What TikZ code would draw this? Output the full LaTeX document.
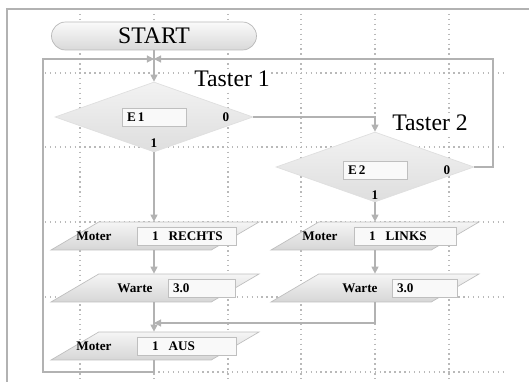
\documentclass[tikz,border=0pt]{standalone}
\usepackage{fontspec}
\setmainfont{Liberation Serif}
\usepackage{tikz}
\usetikzlibrary{shapes}
\usetikzlibrary{arrows.meta,backgrounds}
\tikzset{start node/.style={rounded rectangle, draw=gray!55, top color=gray!4,
    bottom color=gray!30, minimum width=4.1cm, minimum height=0.56cm,
    inner sep=0pt, font=\fontsize{13.5}{14}\selectfont}}
\tikzset{branch node/.style={diamond, draw=gray!25, top color=gray!10,
    bottom color=gray!26, minimum width=3.96cm, minimum height=1.4cm, inner sep=2pt}}
\tikzset{action node/.style={trapezium, trapezium left angle=67, trapezium right angle=113,
    trapezium stretches=true, draw=gray!50, top color=gray!8, bottom color=gray!32,
    minimum width=4.16cm, minimum height=0.56cm, inner sep=2pt}}
\tikzset{field node/.style={draw=gray!50, fill=gray!5, text width=#1, align=left,
    minimum height=0.36cm, inner xsep=0.1cm, inner ysep=0pt,
    font=\bfseries\fontsize{7.5}{8}\selectfont}}
\tikzset{small text/.style={inner sep=1pt, font=\bfseries\fontsize{7.5}{8}\selectfont}}
\tikzset{title text/.style={fill=white, inner sep=1pt, font=\fontsize{13.5}{14}\selectfont}}
\tikzset{flow edge/.style={draw=gray!60, semithick, -{Triangle[length=4pt,width=4pt]}}}
\tikzset{grid line/.style={gray!55, dotted, thick}}
\tikzset{frame line/.style={draw=gray!60, line width=1.2pt}}

\begin{document}
\begin{tikzpicture}
      [x=0.02cm, y=-0.02cm]
      \useasboundingbox (0,0) rectangle (529,382);

      \node [start node]    (start)    at (154, 36) {START};

      \node [branch node]   (taster1)  at (154,117) {};
      \node [branch node]   (taster2)  at (375,167) {};
      \node [title text]    (t1label)  at (232, 79) {Taster 1};
      \node [title text]    (t2label)  at (430,123) {Taster 2};
      \node [field node=1.08cm] (e1)   at (154,117) {E\,1};
      \node [field node=1.08cm] (e2)   at (375,170) {E\,2};
      \node [small text]    (e1zero)   at (226,117) {0};
      \node [small text]    (e1one)    at (154,143) {1};
      \node [small text]    (e2zero)   at (447,170) {0};
      \node [small text]    (e2one)    at (375,195) {1};

      \node [action node]   (rechts)   at (155,236) {};
      \node [action node]   (warte1)   at (155,288) {};
      \node [action node]   (aus)      at (155,346) {};
      \node [action node]   (links)    at (375,236) {};
      \node [action node]   (warte2)   at (375,288) {};

      \node [small text]    (m1label)  at ( 94,236) {Moter};
      \node [small text]    (w1label)  at (135,288) {Warte};
      \node [small text]    (m3label)  at ( 94,346) {Moter};
      \node [small text]    (m2label)  at (320,236) {Moter};
      \node [small text]    (w2label)  at (360,288) {Warte};
      \node [field node=1.78cm] (rechtsval) at (186.5,236) {\hspace{0.2cm}1\hspace{0.2cm}RECHTS};
      \node [field node=1.14cm] (warte1val) at (201.5,288) {3.0};
      \node [field node=1.78cm] (ausval)    at (186.5,346) {\hspace{0.2cm}1\hspace{0.2cm}AUS};
      \node [field node=1.84cm] (linksval)  at (405,236)   {\hspace{0.2cm}1\hspace{0.2cm}LINKS};
      \node [field node=1.10cm] (warte2val) at (424.5,288) {3.0};

      \coordinate (j1) at (154, 59);
      \coordinate (j2) at (154,323);
      \coordinate (l1) at ( 43,372);
      \coordinate (r1) at (493, 59);

      \draw [flow edge]  (start.south)   -- (taster1.north);
      \draw [flow edge]  (taster1.east)  -| (taster2.north);
      \draw [flow edge]  (taster1.south) -- (rechts.north -| taster1.south);
      \draw [flow edge]  (rechts.south -| taster1.south) -- (warte1.north -| taster1.south);
      \draw [flow edge]  (warte1.south -| taster1.south) -- (aus.north -| taster1.south);
      \draw [flow edge]  (taster2.south) -- (links.north);
      \draw [flow edge]  (links.south)   -- (warte2.north);
      \draw [flow edge]  (warte2.south)  |- (j2);
      \draw [flow edge]  (aus.south -| taster1.south) |- (l1) |- (j1);
      \draw [flow edge]  (taster2.east)  -| (r1) -- (j1);

      \begin{pgfonlayer}{background}
        \foreach \gx in {80,154,228,301,375,449}
          \draw [grid line] (\gx,14) -- (\gx,382);
        \foreach \gy in {73,147,222,297,372}
          \draw [grid line] (45,\gy) -- (505,\gy);
        \draw [frame line] (6,9) -- (529,9);
        \draw [frame line] (7,9) -- (7,382);
      \end{pgfonlayer}
    \end{tikzpicture}
\end{document}
